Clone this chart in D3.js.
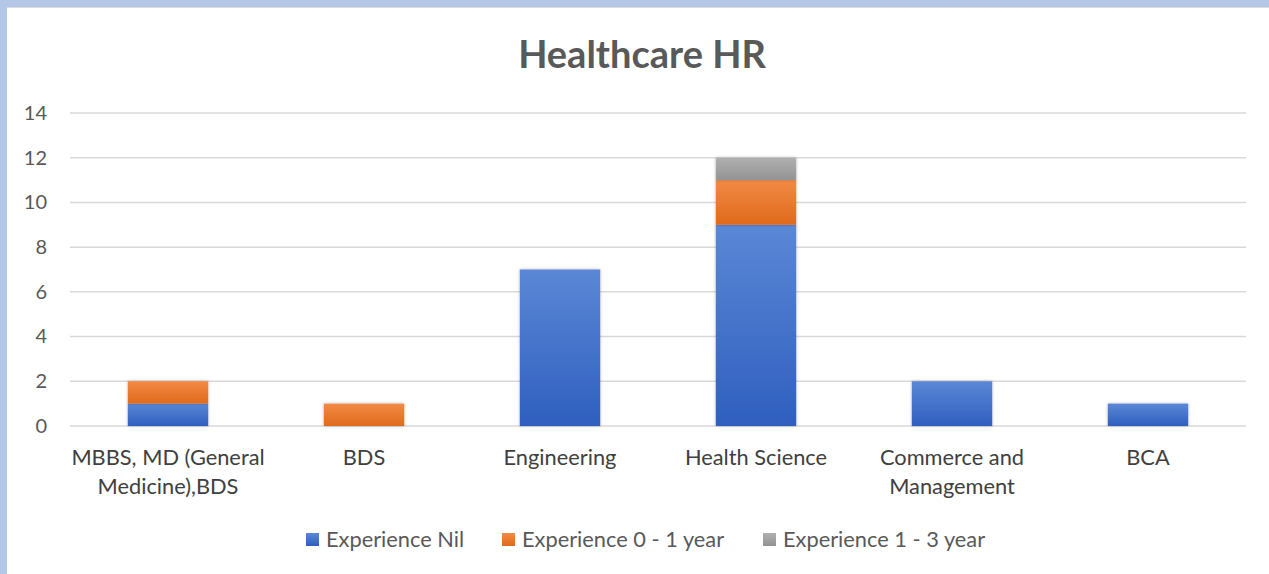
<!DOCTYPE html>
<html>
<head>
<meta charset="UTF-8">
<script src="https://d3js.org/d3.v7.min.js"></script>
<style>
  body { margin: 0; background: #fff; }
  svg { display: block; font-family: Lato, "Open Sans", sans-serif; }
</style>
</head>
<body>
<svg id="chart"></svg>
<script>
// data
var categories = ["MBBS, MD (General Medicine),BDS", "BDS", "Engineering", "Health Science", "Commerce and Management", "BCA"];
var catLines = [["MBBS, MD (General", "Medicine),BDS"], ["BDS"], ["Engineering"], ["Health Science"], ["Commerce and", "Management"], ["BCA"]];
var seriesNames = ["Experience Nil", "Experience 0 - 1 year", "Experience 1 - 3 year"];
var expNil = [1, 0, 7, 9, 2, 1];
var exp0to1 = [1, 1, 0, 2, 0, 0];
var exp1to3 = [0, 0, 0, 1, 0, 0];
var yTicks = [0, 2, 4, 6, 8, 10, 12, 14];

var width = 1269, height = 574;
var colors = [
  ["#5b87d6", "#2f5fbf"],
  ["#f28a45", "#e06a1c"],
  ["#b0b0b0", "#939393"]
];

var svg = d3.select("#chart").attr("width", width).attr("height", height);

// frame
svg.append("rect").attr("x", 0).attr("y", 0).attr("width", width).attr("height", height).attr("fill", "#b4c7e7");
svg.append("rect").attr("x", 7).attr("y", 7).attr("width", width - 7).attr("height", height - 7).attr("fill", "#fff");
svg.append("line").attr("x1", 7).attr("x2", width).attr("y1", 7.5).attr("y2", 7.5).attr("stroke", "#dcdcdc");

var defs = svg.append("defs");
colors.forEach(function(c, i) {
  var g = defs.append("linearGradient").attr("id", "grad" + i)
      .attr("x1", 0).attr("y1", 0).attr("x2", 0).attr("y2", 1);
  g.append("stop").attr("offset", "0%").attr("stop-color", c[0]);
  g.append("stop").attr("offset", "100%").attr("stop-color", c[1]);
});
var f = defs.append("filter").attr("id", "shadow").attr("x", "-20%").attr("y", "-20%").attr("width", "140%").attr("height", "140%");
f.append("feDropShadow").attr("dx", 0).attr("dy", 0).attr("stdDeviation", 1.5).attr("flood-color", "#000").attr("flood-opacity", 0.3);

var x = d3.scaleBand().domain(categories).range([70, 1246]).paddingInner(0.59).paddingOuter(0.295);
var y = d3.scaleLinear().domain([0, 14]).range([426, 113]);

// title
svg.append("text").attr("x", 642).attr("y", 68).attr("text-anchor", "middle")
  .attr("font-size", 38).attr("font-weight", "bold").attr("fill", "#595959").text("Healthcare HR");

// grid
svg.append("g").selectAll("line").data(yTicks).enter().append("line")
  .attr("x1", 70).attr("x2", 1246)
  .attr("y1", function(d) { return y(d); }).attr("y2", function(d) { return y(d); })
  .attr("stroke", "#d9d9d9").attr("stroke-width", 1.5);

// y axis labels
var yAxis = d3.axisLeft(y).tickValues(yTicks).tickSize(0).tickPadding(0);
var ya = svg.append("g").attr("transform", "translate(47,0)").call(yAxis);
ya.select(".domain").remove();
ya.selectAll("text").attr("font-size", 20).attr("fill", "#595959").attr("font-family", "Lato, sans-serif");

// stacked bars
var rows = categories.map(function(c, i) { return { cat: c, s0: expNil[i], s1: exp0to1[i], s2: exp1to3[i] }; });
var stack = d3.stack().keys(["s0", "s1", "s2"])(rows);
stack.forEach(function(layer, i) {
  svg.append("g").attr("filter", "url(#shadow)").selectAll("rect").data(layer.filter(function(d) { return d[1] > d[0]; }))
    .enter().append("rect")
    .attr("x", function(d) { return x(d.data.cat); })
    .attr("width", x.bandwidth())
    .attr("y", function(d) { return y(d[1]); })
    .attr("height", function(d) { return y(d[0]) - y(d[1]); })
    .attr("fill", "url(#grad" + i + ")");
});

// category labels
catLines.forEach(function(lines, i) {
  var t = svg.append("text").attr("text-anchor", "middle").attr("font-size", 21.8).attr("fill", "#404040");
  lines.forEach(function(l, j) {
    t.append("tspan").attr("x", x(categories[i]) + x.bandwidth() / 2).attr("y", 465 + j * 29).text(l);
  });
});

// legend
var legX = [306, 502, 763];
seriesNames.forEach(function(n, i) {
  var g = svg.append("g").attr("transform", "translate(" + legX[i] + ",533)");
  g.append("rect").attr("width", 13).attr("height", 13).attr("fill", "url(#grad" + i + ")");
  g.append("text").attr("x", 20).attr("y", 14).attr("font-size", 21.8).attr("fill", "#595959").text(n);
});
</script>
</body>
</html>
